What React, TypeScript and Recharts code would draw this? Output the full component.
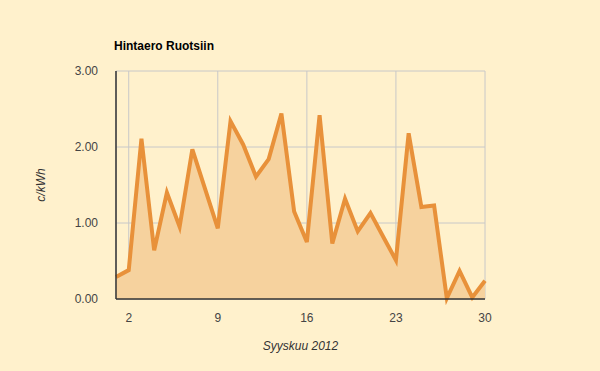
import { AreaChart, Area, XAxis, YAxis, CartesianGrid, Label } from "recharts";

const days = [
  1, 2, 3, 4, 5, 6, 7, 8, 9, 10, 11, 12, 13, 14, 15, 16, 17, 18, 19, 20, 21, 22,
  23, 24, 25, 26, 27, 28, 29, 30,
];
const prices = [
  0.29, 0.38, 2.11, 0.64, 1.4, 0.95, 1.97, 1.45, 0.93, 2.34, 2.03, 1.61, 1.84,
  2.44, 1.15, 0.75, 2.42, 0.73, 1.32, 0.89, 1.13, 0.82, 0.51, 2.18, 1.21, 1.23,
  0.01, 0.37, 0.02, 0.24,
];
const xTicks = [2, 9, 16, 23, 30];
const yTicks = [0, 1, 2, 3];

const data = days.map((d, i) => ({ day: d, price: prices[i] }));

const font = "'Liberation Sans', Arial, sans-serif";

export default function App() {
  return (
    <div
      style={{
        position: "absolute",
        left: 0,
        top: 0,
        width: 600,
        height: 371,
        background: "#FFF1CC",
        fontFamily: font,
      }}
    >
      <div
        style={{
          position: "absolute",
          left: 114,
          top: 39,
          fontSize: 12,
          fontWeight: "bold",
          color: "#000",
        }}
      >
        Hintaero Ruotsiin
      </div>
      <AreaChart
        width={600}
        height={371}
        data={data}
        margin={{ top: 71, right: 115, bottom: 42, left: 0 }}
      >
        <CartesianGrid stroke="#C8C8C8" strokeWidth={1} />
        <XAxis
          dataKey="day"
          type="number"
          domain={[1, 30]}
          ticks={xTicks}
          height={30}
          tickLine={false}
          tickMargin={8}
          axisLine={{ stroke: "#333", strokeWidth: 1.5 }}
          tick={{ fontSize: 12, fill: "#444", fontFamily: font }}
        >
          <Label
            value="Syyskuu 2012"
            position="insideBottom"
            offset={-21}
            style={{ fontSize: 12, fill: "#333", fontStyle: "italic", fontFamily: font }}
          />
        </XAxis>
        <YAxis
          type="number"
          domain={[0, 3]}
          ticks={yTicks}
          width={116}
          tickLine={false}
          tickMargin={12}
          tickFormatter={(v: number) => v.toFixed(2)}
          axisLine={{ stroke: "#333", strokeWidth: 1.5 }}
          tick={{ fontSize: 12, fill: "#444", fontFamily: font }}
        >
          <Label
            value="c/kWh"
            angle={-90}
            position="insideLeft"
            offset={41}
            style={{
              fontSize: 12,
              fill: "#333",
              fontStyle: "italic",
              fontFamily: font,
              textAnchor: "middle",
            }}
          />
        </YAxis>
        <Area
          type="linear"
          dataKey="price"
          stroke="#E8913A"
          strokeWidth={4}
          fill="#F6D29E"
          fillOpacity={1}
          isAnimationActive={false}
          dot={false}
          activeDot={false}
        />
      </AreaChart>
    </div>
  );
}
